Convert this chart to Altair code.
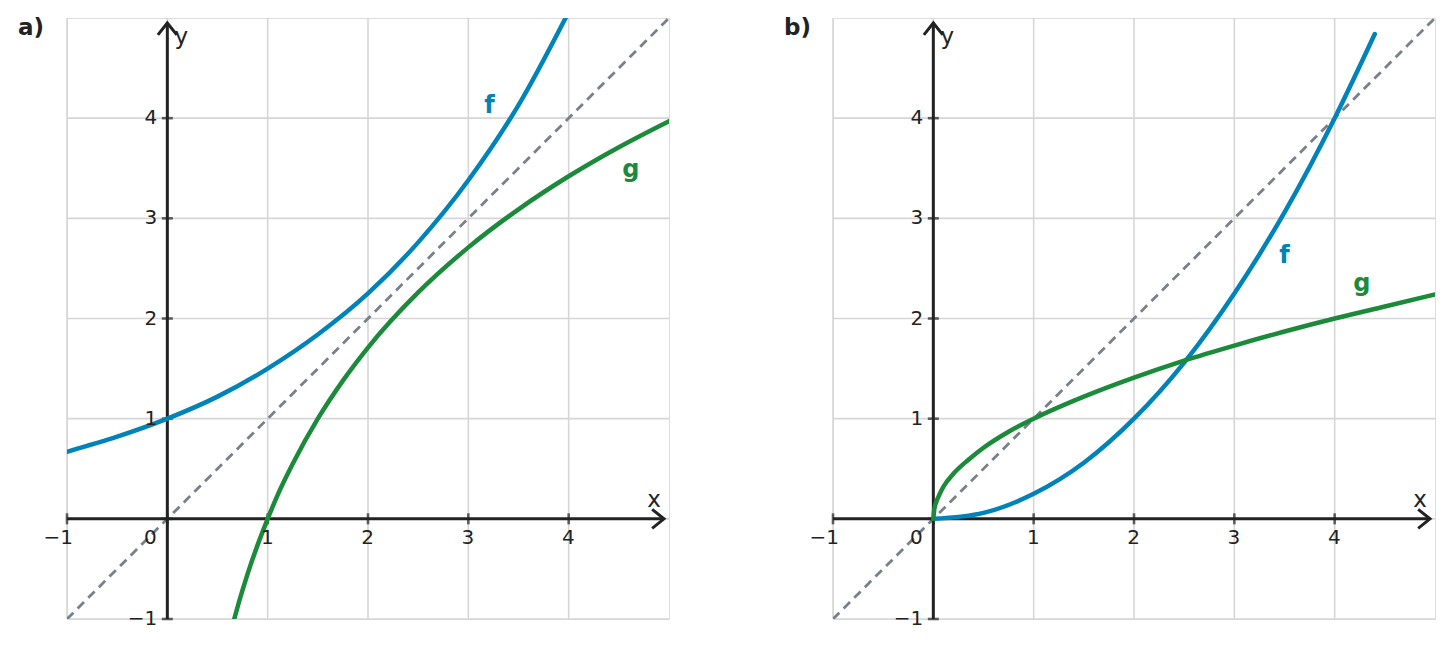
import altair as alt
import pandas as pd

# ---------------- data ----------------
# panel a)
fa_x = [-1.0, -0.5, 0.0, 0.5, 1.0, 1.5, 2.0, 2.5, 3.0, 3.5, 4.0]
fa_y = [0.67, 0.82, 1.0, 1.22, 1.5, 1.84, 2.25, 2.76, 3.38, 4.13, 5.06]
ga_x = [0.667, 0.7, 0.75, 0.8, 0.9, 1.0, 1.1, 1.25, 1.5, 1.75, 2.0, 2.5, 3.0, 3.5, 4.0, 4.5, 5.0]
ga_y = [-1.0, -0.88, -0.71, -0.55, -0.26, 0.0, 0.24, 0.55, 1.0, 1.38, 1.71, 2.26, 2.71, 3.09, 3.42, 3.71, 3.97]
# panel b)
fb_x = [0.0, 0.5, 1.0, 1.5, 2.0, 2.5, 3.0, 3.5, 4.0, 4.4]
fb_y = [0.0, 0.06, 0.25, 0.56, 1.0, 1.56, 2.25, 3.06, 4.0, 4.84]
gb_x = [0.0, 0.01, 0.03, 0.06, 0.1, 0.2, 0.35, 0.5, 0.75, 1.0, 1.5, 2.0, 2.5, 3.0, 3.5, 4.0, 4.5, 5.0]
gb_y = [0.0, 0.1, 0.17, 0.24, 0.32, 0.45, 0.59, 0.71, 0.87, 1.0, 1.22, 1.41, 1.58, 1.73, 1.87, 2.0, 2.12, 2.24]
# identity line
diag_x = [-1.0, 5.0]
diag_y = [-1.0, 5.0]

ticks = [-1, 0, 1, 2, 3, 4]
tick_labels = ["−1", "0", "1", "2", "3", "4"]
domain = [-1, 5]
axis_end = 4.95

panel_names = ["a)", "b)"]
curve_names = ["f", "g"]
# label anchor points (data coords) for f and g in each panel
label_a = {"x": [3.21, 4.62], "y": [4.12, 3.48]}
label_b = {"x": [3.50, 4.27], "y": [2.62, 2.34]}

BLUE = "#0083b8"
GREEN = "#1b8a3b"
GRAY = "#7a8089"
GRID = "#d6d6d6"
DARK = "#222222"
FONT = "DejaVu Sans"

W, H = 602, 601


def X(field):
    return alt.X(field, type="quantitative",
                 scale=alt.Scale(domain=domain, nice=False, zero=False), axis=None)


def Y(field):
    return alt.Y(field, type="quantitative",
                 scale=alt.Scale(domain=domain, nice=False, zero=False), axis=None)


def panel(name, fx, fy, gx, gy, lab):
    grid_df = pd.DataFrame({"v": ticks, "lo": [domain[0]] * len(ticks), "hi": [domain[1]] * len(ticks)})
    vgrid = alt.Chart(grid_df).mark_rule(color=GRID, strokeWidth=1.6).encode(
        x=X("v"), y=Y("lo"), y2="hi")
    hgrid = alt.Chart(grid_df).mark_rule(color=GRID, strokeWidth=1.6).encode(
        y=Y("v"), x=X("lo"), x2="hi")

    diag = alt.Chart(pd.DataFrame({"x": diag_x, "y": diag_y})).mark_line(
        color=GRAY, strokeWidth=2.8, strokeDash=[9, 6], clip=True).encode(x=X("x"), y=Y("y"))

    # axes
    ax_df = pd.DataFrame({"lo": [domain[0]], "hi": [axis_end], "z": [0]})
    xaxis = alt.Chart(ax_df).mark_rule(color=DARK, strokeWidth=3).encode(
        x=X("lo"), x2="hi", y=Y("z"))
    yaxis = alt.Chart(ax_df).mark_rule(color=DARK, strokeWidth=3).encode(
        y=Y("lo"), y2="hi", x=X("z"))
    tick_df = pd.DataFrame({"t": ticks, "z": [0] * len(ticks), "lab": tick_labels})
    xticks = alt.Chart(tick_df).mark_tick(orient="vertical", size=11, thickness=2.6, color=DARK).encode(
        x=X("t"), y=Y("z"))
    yticks = alt.Chart(tick_df).mark_tick(orient="horizontal", size=11, thickness=2.6, color=DARK).encode(
        y=Y("t"), x=X("z"))
    nz = tick_df[tick_df.t != 0]
    xlabels = alt.Chart(nz).mark_text(align="right", baseline="middle", dx=6, dy=19,
                                      fontSize=20, font=FONT, color=DARK).encode(
        x=X("t"), y=Y("z"), text="lab:N")
    ylabels = alt.Chart(nz).mark_text(align="right", baseline="middle", dx=-10, dy=0,
                                      fontSize=20, font=FONT, color=DARK).encode(
        y=Y("t"), x=X("z"), text="lab:N")
    zlabel = alt.Chart(tick_df[tick_df.t == 0]).mark_text(align="center", baseline="middle", dx=-17, dy=19,
                                                          fontSize=20, font=FONT, color=DARK).encode(
        x=X("t"), y=Y("z"), text="lab:N")

    arrow_df = pd.DataFrame({"x": [axis_end, 0], "y": [0, axis_end], "ang": [0, 270]})
    arrows = alt.Chart(arrow_df).mark_point(
        shape="M-1,-0.8L0,0L-1,0.8", size=560, filled=False, stroke=DARK,
        strokeWidth=3, opacity=1, strokeJoin="miter").encode(
        x=X("x"), y=Y("y"), angle=alt.Angle("ang:Q", scale=None))

    axname_df = pd.DataFrame({"x": [4.85, 0.14], "y": [0.19, 4.81], "t": ["x", "y"]})
    axnames = alt.Chart(axname_df).mark_text(align="center", baseline="middle", fontSize=23,
                                             font=FONT, color=DARK).encode(
        x=X("x"), y=Y("y"), text="t:N")

    f_line = alt.Chart(pd.DataFrame({"x": fx, "y": fy})).mark_line(
        color=BLUE, strokeWidth=4.5, interpolate="monotone", clip=True, strokeCap="round").encode(
        x=X("x"), y=Y("y"))
    g_line = alt.Chart(pd.DataFrame({"x": gx, "y": gy})).mark_line(
        color=GREEN, strokeWidth=4.5, interpolate="monotone", clip=True, strokeCap="round").encode(
        x=X("x"), y=Y("y"))

    lab_df = pd.DataFrame({"x": lab["x"], "y": lab["y"], "t": curve_names})
    curve_labels = alt.Chart(lab_df).mark_text(align="center", baseline="middle", fontSize=24,
                                               fontWeight="bold", font=FONT).encode(
        x=X("x"), y=Y("y"), text="t:N",
        color=alt.Color("t:N", scale=alt.Scale(domain=curve_names, range=[BLUE, GREEN]), legend=None))

    title = alt.Chart(pd.DataFrame({"t": [name]})).mark_text(
        align="left", baseline="middle", fontSize=23, fontWeight="bold", font=FONT, color=DARK).encode(
        x=alt.value(-49), y=alt.value(10), text="t:N")

    return alt.layer(vgrid, hgrid, diag, xaxis, yaxis, xticks, yticks, f_line, g_line,
                     arrows, xlabels, ylabels, zlabel, axnames, curve_labels, title).properties(
        width=W, height=H)


pa = panel(panel_names[0], fa_x, fa_y, ga_x, ga_y, label_a)
pb = panel(panel_names[1], fb_x, fb_y, gb_x, gb_y, label_b)

chart = alt.hconcat(pa, pb, spacing=164, bounds="flush").properties(
    padding={"left": 9, "top": 8, "right": 5, "bottom": 5}
).configure_view(stroke=None).configure(background="white")

chart.save("out.html", embed_options={"renderer": "svg", "actions": False})
